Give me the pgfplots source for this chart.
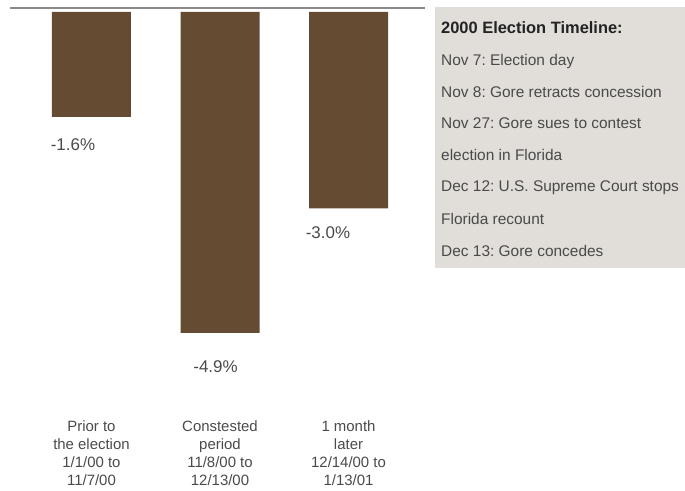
\documentclass[border=0pt]{standalone}
\usepackage{pgfplots}
\pgfplotsset{compat=1.18}
\usepackage{fontspec}
\setmainfont{Liberation Sans}
\frenchspacing
\definecolor{barbrown}{HTML}{664B33}
\definecolor{boxgray}{HTML}{E1DDD9}
\definecolor{txt}{HTML}{4A4A4A}
\definecolor{ttl}{HTML}{222222}
\definecolor{rulegray}{HTML}{8A8A8A}
\begin{document}
\frenchspacing
\begin{tikzpicture}[x=1bp,y=1bp]
\useasboundingbox (0,0) rectangle (685,491);
% timeline box
\fill[boxgray] (435,484) rectangle (685,223);
\begin{scope}[every node/.style={anchor=base west, inner sep=0pt, text=txt, font=\fontsize{15.5}{18}\selectfont}]
\node[text=ttl, font=\fontsize{16.5}{19}\selectfont\bfseries] at (441,491-34) {2000 Election Timeline:};
\node at (441,491-65.5) {Nov 7: Election day};
\node at (441,491-97.5) {Nov 8: Gore retracts concession};
\node at (441,491-129) {Nov 27: Gore sues to contest};
\node at (441,491-160.5) {election in Florida};
\node at (441,491-192) {Dec 12: U.S. Supreme Court stops};
\node at (441,491-224.5) {Florida recount};
\node at (441,491-256.5) {Dec 13: Gore concedes};
\end{scope}
\begin{axis}[
  at={(10bp,483bp)}, anchor=north west,
  scale only axis, width=415bp, height=331.5bp,
  xmin=-0.634, xmax=2.595, ymin=-5, ymax=0.061,
  ybar, bar width=79bp,
  axis line style={draw=none},
  major tick length=0pt,
  ytick=\empty,
  xtick={0,1,2},
  xticklabels={{Prior to\\the election\\1/1/00 to\\11/7/00},{Constested\\period\\11/8/00 to\\12/13/00},{1 month\\later\\12/14/00 to\\1/13/01}},
  xticklabel style={align=center, text=txt, font=\fontsize{15}{17.8}\selectfont, yshift=-78bp},
  clip=false,
]
\addplot[fill=barbrown, draw=none] coordinates {(0,-1.6) (1,-4.9) (2,-3.0)};
\draw[rulegray, line width=2bp] (rel axis cs:0,1) -- (rel axis cs:1,1);
\begin{scope}[every node/.style={text=txt, font=\fontsize{17}{20}\selectfont, inner sep=0pt}]
\node at (axis cs:-0.144,-2.03) {-1.6\%};
\node at (axis cs:0.965,-5.42) {-4.9\%};
\node at (axis cs:1.84,-3.37) {-3.0\%};
\end{scope}
\end{axis}
\end{tikzpicture}
\end{document}
